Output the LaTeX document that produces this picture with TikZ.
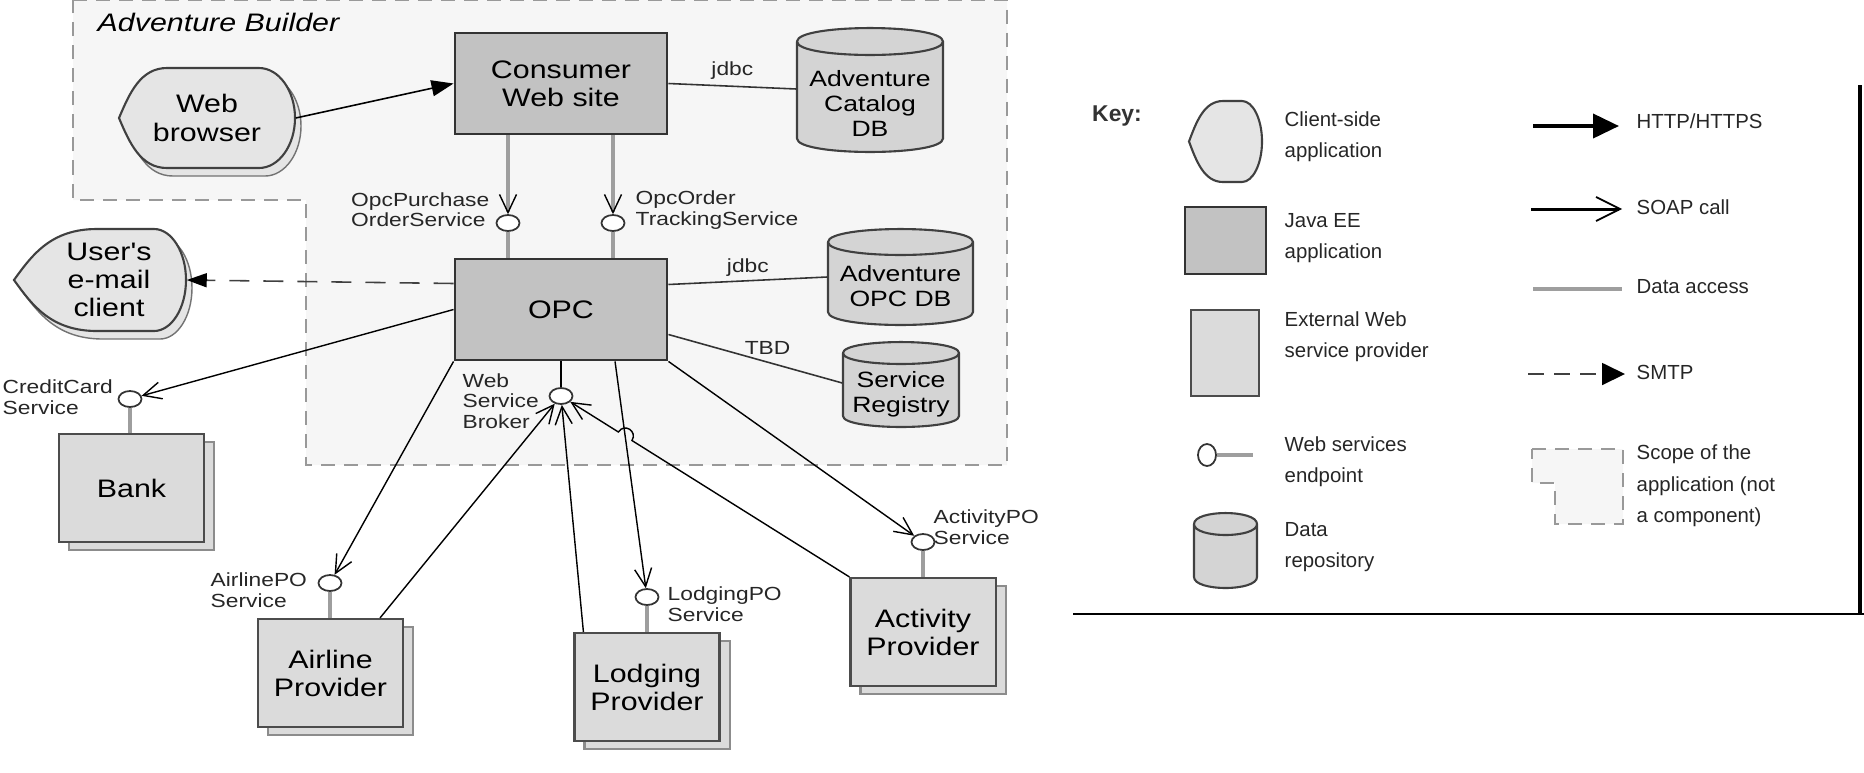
\documentclass[tikz,border=0pt]{standalone}
\usepackage{fontspec}
\setmainfont{Liberation Sans}
\newfontfamily\widefont{Liberation Sans}[FakeStretch=1.2]
\usepackage{tikz}
\usetikzlibrary{arrows.meta,calc,shapes.geometric,shadows}

\definecolor{scopefill}{gray}{0.965}
\definecolor{clientfill}{gray}{0.9}
\definecolor{jeefill}{gray}{0.76}
\definecolor{provfill}{gray}{0.86}
\definecolor{dbfill}{gray}{0.83}
\definecolor{datagray}{gray}{0.62}

\newcommand{\boxfont}{\widefont\fontsize{7.2pt}{8pt}\selectfont}
\newcommand{\dbfont}{\widefont\fontsize{6.3pt}{7pt}\selectfont}
\newcommand{\tagfont}{\widefont\fontsize{5.4pt}{5.8pt}\selectfont}
\newcommand{\keyfont}{\fontsize{5.8pt}{8.9pt}\selectfont}

% outline of a client-side application, centred on the origin
\newcommand{\clientpath}[4]{%
  (-#1,0) .. controls ({-#1+0.22*#3},{-0.5*#2}) and ({-#1+0.45*#3},-#2) .. ({-#1+#3},-#2)
  -- ({#1-#4},-#2) .. controls ({#1-0.45*#4},-#2) and (#1,{-0.55*#2}) .. (#1,0)
  .. controls (#1,{0.55*#2}) and ({#1-0.45*#4},#2) .. ({#1-#4},#2)
  -- ({-#1+#3},#2) .. controls ({-#1+0.45*#3},#2) and ({-#1+0.22*#3},{0.5*#2}) .. (-#1,0) -- cycle}
% outline of a data repository, centred on the origin (half width, half height, cap radius)
\newcommand{\dbpath}[3]{%
  (-#1,{-#2+#3}) -- (-#1,{#2-#3}) .. controls (-#1,{#2+0.33*#3}) and (#1,{#2+0.33*#3}) .. (#1,{#2-#3})
  -- (#1,{-#2+#3}) .. controls (#1,{-#2-0.33*#3}) and (-#1,{-#2-0.33*#3}) .. (-#1,{-#2+#3})
  .. controls (-#1,{-#2+2.33*#3}) and (#1,{-#2+2.33*#3}) .. (#1,{-#2+#3})}

\tikzset{
  scopeline/.style={draw=black!40, line width=0.7pt, dash pattern=on 1.4mm off 0.9mm, fill=scopefill},
  client/.style={draw=black!75, line width=0.6pt, fill=clientfill},
  clientshadow/.style={general shadow={shadow xshift=0.6mm, shadow yshift=-0.8mm, fill=clientfill, draw=black!55}},
  clienttxt/.style={inner sep=0pt, align=center, font=\boxfont},
  jeebox/.style={draw=black!80, line width=0.8pt, fill=jeefill, minimum width=2.12cm,
    minimum height=1.01cm, inner sep=0pt, align=center, font=\boxfont},
  provider/.style={draw=black!70, line width=0.6pt, fill=provfill, minimum width=1.45cm,
    minimum height=1.08cm, inner sep=0pt, align=center, font=\boxfont,
    general shadow={shadow xshift=1mm, shadow yshift=-0.8mm, fill=provfill, draw=black!45}},
  dbase/.style={draw=black!75, line width=0.6pt, fill=dbfill, line join=round},
  dbtxt/.style={inner sep=0pt, align=center, font=\dbfont},
  endpt/.style={ellipse, draw=black!80, line width=0.5pt, fill=white, minimum width=2.3mm,
    minimum height=1.6mm, inner sep=0pt},
  svclabel/.style={font=\tagfont, align=left, inner sep=0pt, text=black!85},
  keytxt/.style={font=\keyfont, align=left, inner sep=0pt, anchor=west, text=black!85},
  barb/.style={-{Straight Barb[length=1.8mm, width=1.7mm, color=black, line width=0.4pt]}},
  soap/.style={draw=black, line width=0.4pt, barb},
  http/.style={draw=black, line width=0.45pt, -{Triangle[length=2.2mm, width=1.6mm]}},
  smtp/.style={draw=black!75, line width=0.45pt, dash pattern=on 2mm off 1.4mm,
    -{Triangle[length=2mm, width=1.4mm, color=black]}},
  dataline/.style={draw=datagray, line width=0.9pt},
  dblink/.style={draw=black!80, line width=0.45pt}
}

\begin{document}
\begin{tikzpicture}[x=0.01cm, y=-0.01cm]
  \useasboundingbox (0,0) rectangle (1864,772);

  % scope of the application
  \path[scopeline] (73,0) -- (1007,0) -- (1007,465) -- (306,465) -- (306,200) -- (73,200) -- cycle;
  \node[anchor=west, inner sep=0pt, font=\boxfont\itshape] (scopename) at (97,22) {Adventure Builder};

  % client-side applications
  \draw[client, clientshadow, shift={(207,118)}] \clientpath{88}{50}{48}{36};
  \node[clienttxt, minimum width=1.76cm, minimum height=1cm] (browser) at (207,118) {Web\\browser};
  \draw[client, clientshadow, shift={(100,280)}] \clientpath{86}{51}{83}{32};
  \node[clienttxt, minimum width=1.54cm, minimum height=1.02cm] (mail) at (109,280) {User's\\e-mail\\client};

  % Java EE applications and repositories
  \node[jeebox] (site) at (561,83.5) {Consumer\\Web site};
  \node[jeebox] (opc) at (561,309.5) {OPC};
  \draw[dbase, shift={(870,90)}] \dbpath{73}{62}{13.5};
  \node[dbtxt, minimum width=1.46cm, minimum height=0.97cm] (catdb) at (870,103.5) {Adventure\\Catalog\\DB};
  \draw[dbase, shift={(900.5,277)}] \dbpath{72.5}{48}{13};
  \node[dbtxt, minimum width=1.45cm, minimum height=0.7cm] (opcdb) at (900.5,286) {Adventure\\OPC DB};
  \draw[dbase, shift={(901,384.5)}] \dbpath{58}{42.5}{11};
  \node[dbtxt, minimum width=1.16cm, minimum height=0.63cm] (registry) at (901,394) {Service\\Registry};

  % external providers
  \node[provider] (bank) at (131.5,488) {Bank};
  \node[provider] (airline) at (330.5,673) {Airline\\Provider};
  \node[provider] (lodging) at (647,687) {Lodging\\Provider};
  \node[provider] (activity) at (923,632) {Activity\\Provider};

  % web service endpoints
  \foreach \n/\x/\y in {ppo/508/223, pot/613/223, broker/561/396, pcc/130/399,
                        pair/330/583, plodg/647/597, pact/923/542}
    \node[endpt] (\n) at (\x,\y) {};
  \node[svclabel, anchor=east] (lppo) at (490,210) {OpcPurchase\\OrderService};
  \node[svclabel, anchor=west] (lpot) at (635,210) {OpcOrder\\TrackingService};
  \node[svclabel, anchor=west] (lbroker) at (462,401) {Web\\Service\\Broker};
  \node[svclabel, anchor=west] (lpcc) at (2,397) {CreditCard\\Service};
  \node[svclabel, anchor=west] (lpair) at (210,590) {AirlinePO\\Service};
  \node[svclabel, anchor=west] (lplodg) at (667,604) {LodgingPO\\Service};
  \node[svclabel, anchor=west] (lpact) at (933,527) {ActivityPO\\Service};

  % connectors
  \draw[http] (browser.east) -- (site.west);
  \draw[dataline, barb] (site.south -| ppo) -- (ppo);
  \draw[dataline, barb] (site.south -| pot) -- (pot);
  \draw[dataline] (ppo) -- (ppo |- opc.north);
  \draw[dataline] (pot) -- (pot |- opc.north);
  \draw[dblink] (site.east) -- node[svclabel, above=0.6mm] (ljdbc) {jdbc} ([yshift=1.45mm]catdb.west);
  \draw[dblink] ([yshift=2.5mm]opc.east) -- node[svclabel, above=0.4mm] (ljdbcb) {jdbc} ([yshift=0.9mm]opcdb.west);
  \draw[dblink] ([yshift=-2.5mm]opc.east) -- node[svclabel, pos=0.57, above=0.7mm] (ltbd) {TBD} ([yshift=1.1mm]registry.west);
  \draw[smtp] ([yshift=2.6mm]opc.west) -- (mail.east);
  \draw[soap] (opc.west) -- (pcc);
  \draw[dataline] (pcc) -- (pcc |- bank.north);
  \draw[draw=black, line width=0.45pt] (opc.south) -- (broker);
  \draw[soap] (opc.south west) -- (pair);
  \draw[dataline] (pair) -- (pair |- airline.north);
  \draw[soap] ([xshift=4.95mm]airline.north) -- (broker);
  \coordinate (lodgsrc) at ([xshift=5.4mm]opc.south);
  \draw[soap] (lodgsrc) -- (plodg);
  \draw[dataline] (plodg) -- (plodg |- lodging.north);
  \draw[soap] ([xshift=1mm]lodging.north west) -- (broker);
  \draw[soap] (opc.south east) -- (pact);
  \draw[dataline] (pact) -- (pact |- activity.north);
  \coordinate (actsrc) at (activity.north west);
  \coordinate (hop) at (intersection of actsrc--broker and lodgsrc--plodg);
  \coordinate (h1) at ($(hop)!0.8mm!(actsrc)$);
  \coordinate (h2) at ($(hop)!0.8mm!(broker)$);
  \draw[soap] (actsrc) -- (h1) .. controls ($(h1)!1.1mm!-90:(hop)$) and ($(h2)!1.1mm!90:(hop)$) .. (h2) -- (broker);

  % key
  \node[inner sep=0pt, text=black!80, font=\bfseries\fontsize{6.5pt}{7pt}\selectfont] (key) at (1117,116) {Key:};
  \draw[client, shift={(1225.5,141.5)}] \clientpath{36.5}{40.5}{34}{20};
  \draw[draw=black!80, line width=0.8pt, fill=jeefill] (1185,207) rectangle (1266,274);
  \draw[draw=black!70, line width=0.6pt, fill=provfill] (1191,310) rectangle (1259,396);
  \draw[dataline] (1217,455) -- (1253,455);
  \draw[draw=black!80, line width=0.5pt, fill=white] (1207,455) ellipse [x radius=0.9mm, y radius=1.1mm];
  \draw[dbase, shift={(1225.5,550.5)}] \dbpath{31.5}{37.5}{11};
  \foreach \n/\y/\t in {kclient/136.5/{Client-side\\application}, kjee/238/{Java EE\\application},
                        kext/337/{External Web\\service provider}, kendpt/461.5/{Web services\\endpoint},
                        kdata/547/{Data\\repository}}
    \node[keytxt] (\n) at (1284,\y) {\t};
  \draw[draw=black, line width=1.1pt, -{Triangle[length=2.6mm, width=2.4mm]}] (1533,126) -- (1619,126);
  \draw[draw=black, line width=0.85pt, -{Straight Barb[length=2.4mm, width=2.4mm, line width=0.5pt]}] (1531,209) -- (1622,209);
  \draw[dataline] (1533,289) -- (1622,289);
  \draw[draw=black!75, line width=0.5pt, dash pattern=on 1.6mm off 1mm,
        -{Triangle[length=2.3mm, width=2.2mm, color=black]}] (1528,374) -- (1625,374);
  \path[scopeline, line width=0.6pt] (1532,449) -- (1623,449) -- (1623,524) -- (1555,524) -- (1555,483) -- (1532,483) -- cycle;
  \foreach \n/\y/\t in {khttp/121/{HTTP/HTTPS}, ksoap/207/{SOAP call}, kaccess/287/{Data access},
                        ksmtp/372/{SMTP}, kscope/486/{Scope of the\\application (not\\a component)}}
    \node[keytxt] (\n) at (1636,\y) {\t};
  \draw[line width=0.6pt] (1073,614) -- (1864,614);
  \draw[line width=1.1pt] (1860,85) -- (1860,614);
\end{tikzpicture}
\end{document}
